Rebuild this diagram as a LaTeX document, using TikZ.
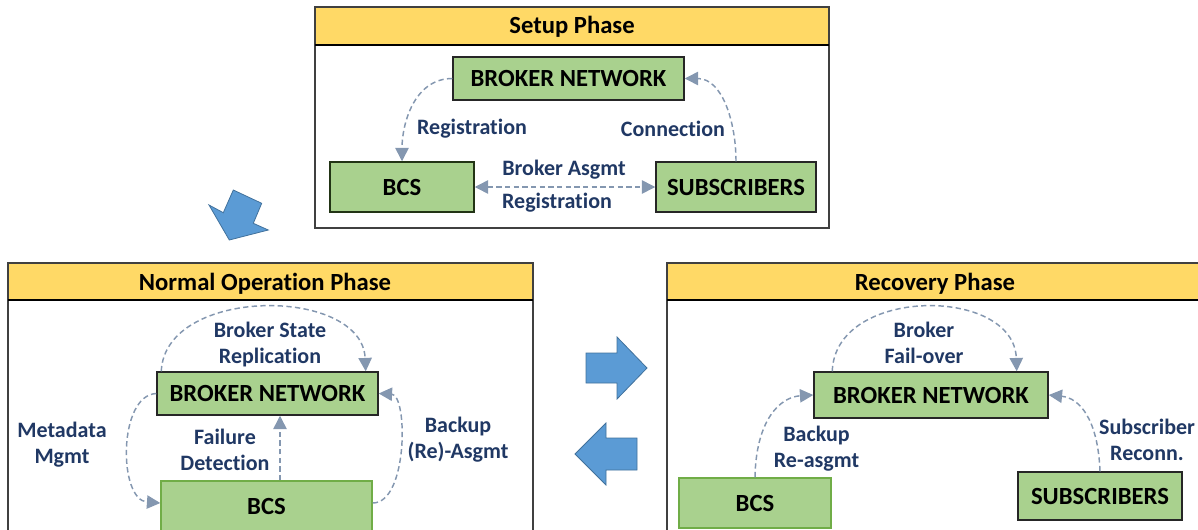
\documentclass[tikz,border=0pt]{standalone}
\usepackage{fontspec}
\setmainfont{Carlito}[Ligatures=NoCommon]
\usetikzlibrary{arrows.meta,calc}
\definecolor{hdr}{HTML}{FFD966}
\definecolor{gfill}{HTML}{A9D18E}
\definecolor{gdark}{HTML}{70AD47}
\definecolor{lblc}{HTML}{203864}
\definecolor{connc}{HTML}{8497B0}
\definecolor{blk}{HTML}{5B9BD5}
\definecolor{blkb}{HTML}{41719C}
\definecolor{framec}{HTML}{404040}
\begin{document}
\begin{tikzpicture}[x=0.75pt,y=-0.75pt,
  >={Triangle[length=10pt,width=10pt]},
  nodebox/.style={draw=black!85, fill=gfill, line width=1.1pt, inner sep=0pt,
    font=\bfseries\fontsize{18.5}{20}\selectfont},
  gbox/.style={nodebox, draw=gdark},
  lab/.style={text=lblc, font=\bfseries\fontsize{16.5}{19.5}\selectfont, align=center, inner sep=0pt},
  ttl/.style={font=\bfseries\fontsize{18.5}{20}\selectfont, inner sep=0pt},
  connbase/.style={draw=connc, line width=1.1pt, dash pattern=on 4pt off 2.5pt},
  conn/.style={connbase, ->},
  frm/.style={draw=framec, line width=1.1pt},
  hline/.style={draw=black, line width=2pt},
  blockarrow/.style={fill=blk, draw=blkb, line width=0.6pt}
]
\useasboundingbox (0,0) rectangle (1198,529);
\clip (0,0) rectangle (1198,529);

% ---------------- Setup phase ----------------
\fill[hdr] (315,7) rectangle (829,45);
\draw[frm] (315,7) rectangle (829,228);
\draw[hline] (315,45) -- (829,45);
\node[ttl] (t1) at (572,27) {Setup Phase};

\node[nodebox, minimum width=173.25pt, minimum height=32.25pt] (bn1) at (568.5,78.5) {BROKER NETWORK};
\node[nodebox, draw=black!70!gdark, minimum width=108pt, minimum height=37.5pt] (bcs1) at (402,187) {BCS};
\node[nodebox, minimum width=120pt, minimum height=37.5pt] (sub1) at (736,187) {SUBSCRIBERS};

\draw[conn] (bn1.west) to[out=180,in=90] (bcs1.north);
\draw[conn] (sub1.north) to[out=90,in=0] (bn1.east);
\draw[connbase, <->] (bcs1.east) -- (sub1.west);

\node[lab] (l1) at (472,129) {Registration};
\node[lab] (l2) at (673,129) {Connection};
\node[lab] (l3) at (564,170) {Broker Asgmt};
\node[lab] (l4) at (557,203) {Registration};

% ---------------- Block arrows ----------------
\filldraw[blockarrow] (229.3,240) -- (209,205) -- (223.3,212.7) -- (233.3,190) -- (261.7,203.3) -- (253.3,223.3) -- (268.3,230) -- cycle;
\filldraw[blockarrow] (586,353) -- (617,353) -- (617,337) -- (647,368) -- (617,399) -- (617,383) -- (586,383) -- cycle;
\filldraw[blockarrow] (637,438) -- (606,438) -- (606,423) -- (575,454) -- (606,485) -- (606,470) -- (637,470) -- cycle;

% ---------------- Normal operation phase ----------------
\fill[hdr] (8,263) rectangle (533,300);
\draw[frm] (8,263) rectangle (533,545);
\draw[hline] (8,300) -- (533,300);
\node[ttl] (t2) at (265,284) {Normal Operation Phase};

\node[nodebox, minimum width=165.75pt, minimum height=32.25pt] (bn2) at (267.5,393.5) {BROKER NETWORK};
\node[gbox, minimum width=158.25pt, minimum height=37.5pt] (bcs2) at (266.5,506) {BCS};

\draw[conn] ($(bn2.north west)+(5,0)$) .. controls (165,286) and (362,286) .. ($(bn2.north east)+(-13,0)$);
\draw[conn] (bn2.west) .. controls (118,395) and (118,500) .. ($(bcs2.west)+(0,-3)$);
\draw[conn] ($(bcs2.east)+(0,-3)$) .. controls (408,503) and (408,395) .. (bn2.east);
\coordinate (fd) at (280,0);
\draw[conn] (bcs2.north -| fd) -- (bn2.south -| fd);

\node[lab] (l5) at (270,345) {Broker State\\Replication};
\node[lab] (l6) at (62,444.5) {Metadata\\Mgmt};
\node[lab] (l7) at (225,450) {Failure\\Detection};
\node[lab] (l8) at (458,439.5) {Backup\\(Re)-Asgmt};

% ---------------- Recovery phase ----------------
\fill[hdr] (667,263) rectangle (1210,300);
\draw[frm] (667,263) rectangle (1210,545);
\draw[hline] (667,300) -- (1210,300);
\node[ttl] (t3) at (935,284) {Recovery Phase};

\node[nodebox, minimum width=175.5pt, minimum height=34.5pt] (bn3) at (931,395) {BROKER NETWORK};
\node[gbox, minimum width=114pt, minimum height=37.5pt] (bcs3) at (755,503) {BCS};
\node[nodebox, minimum width=123pt, minimum height=36pt] (sub3) at (1100,496) {SUBSCRIBERS};

\draw[conn] ($(bn3.north west)+(19,0)$) .. controls (835,286) and (1014,286) .. ($(bn3.north east)+(-32,0)$);
\draw[conn] (bcs3.north) .. controls (756,420) and (780,397) .. (bn3.west);
\draw[conn] (sub3.north) .. controls (1098,420) and (1080,398) .. (bn3.east);

\node[lab] (l9) at (924,343) {Broker\\Fail-over};
\node[lab] (l10) at (816.5,448.5) {Backup\\Re-asgmt};
\node[lab] (l11) at (1147,439.5) {Subscriber\\Reconn.};
\end{tikzpicture}
\end{document}
